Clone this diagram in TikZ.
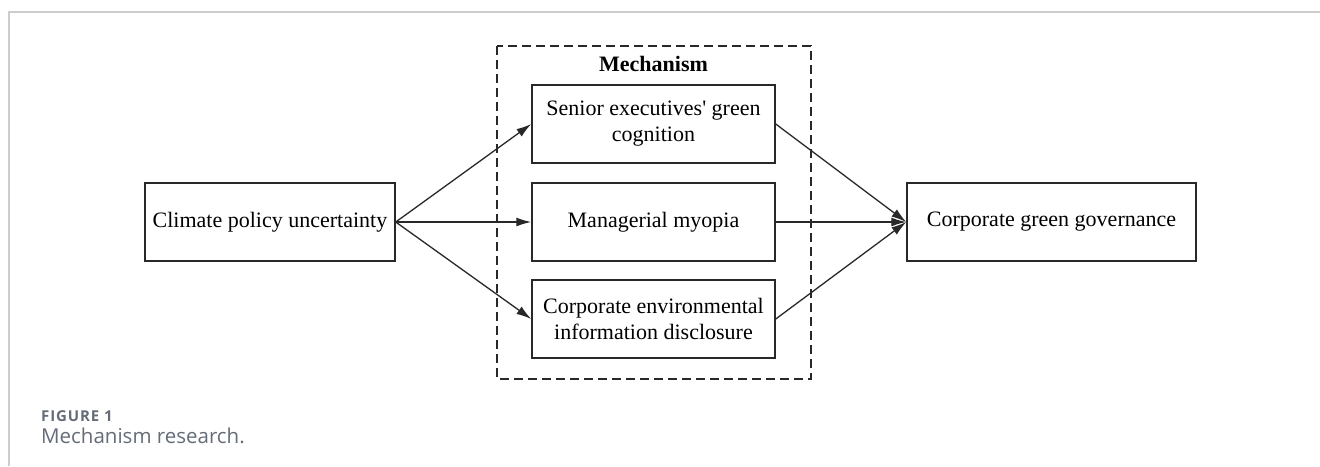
\documentclass[tikz,border=0pt]{standalone}
\usepackage{fontspec}
\setmainfont{Liberation Serif}
\newfontfamily\capfont{Open Sans}
\newfontfamily\figfont[LetterSpace=6]{Open Sans}
\usetikzlibrary{arrows.meta}
\definecolor{framegray}{RGB}{205,205,205}
\definecolor{capgray}{RGB}{100,108,120}
\definecolor{linegray}{RGB}{40,40,40}

\begin{document}
\begin{tikzpicture}[x=1pt, y=-1pt,
    box/.style={draw=linegray, line width=1.5pt, minimum width=243pt, minimum height=78pt,
                inner sep=0pt, align=center, font=\fontsize{22}{26}\selectfont},
    arr/.style={draw=linegray, line width=1.3pt, -{Latex[length=15pt,width=9pt]}}]
    \useasboundingbox (0,0) rectangle (1320,466);
    \draw[framegray, line width=1.8pt] (9,466) -- (9,12) -- (1320,12);

    % mechanism frame
    \draw[linegray, line width=1.5pt, dash pattern=on 9pt off 5pt] (497,46) rectangle (811,379);
    \node[font=\fontsize{22}{26}\selectfont\bfseries] (mech) at (653.5,64) {Mechanism};

    \node[box, minimum width=250pt] (cpu) at (270,222) {Climate policy uncertainty};
    \node[box] (seg) at (653.5,124) {Senior executives\textquotesingle{} green\\cognition};
    \node[box] (mm) at (653.5,222) {Managerial myopia};
    \node[box] (ceid) at (653.5,319) {Corporate environmental\\information disclosure};
    \node[box, minimum width=289pt] (cgg) at (1051.5,222) {Corporate green governance};

    \foreach \m in {seg,mm,ceid} {
        \draw[arr] (cpu.east) -- (\m.west);
        \draw[arr] (\m.east) -- (cgg.west);
    }

    \node[anchor=west, inner sep=0pt, text=capgray, font=\figfont\bfseries\fontsize{15}{18}\selectfont] (fig) at (41,416) {FIGURE 1};
    \node[anchor=west, inner sep=0pt, text=capgray, font=\capfont\fontsize{20.5}{24}\selectfont] (cap) at (41,436) {Mechanism research.};
\end{tikzpicture}
\end{document}
